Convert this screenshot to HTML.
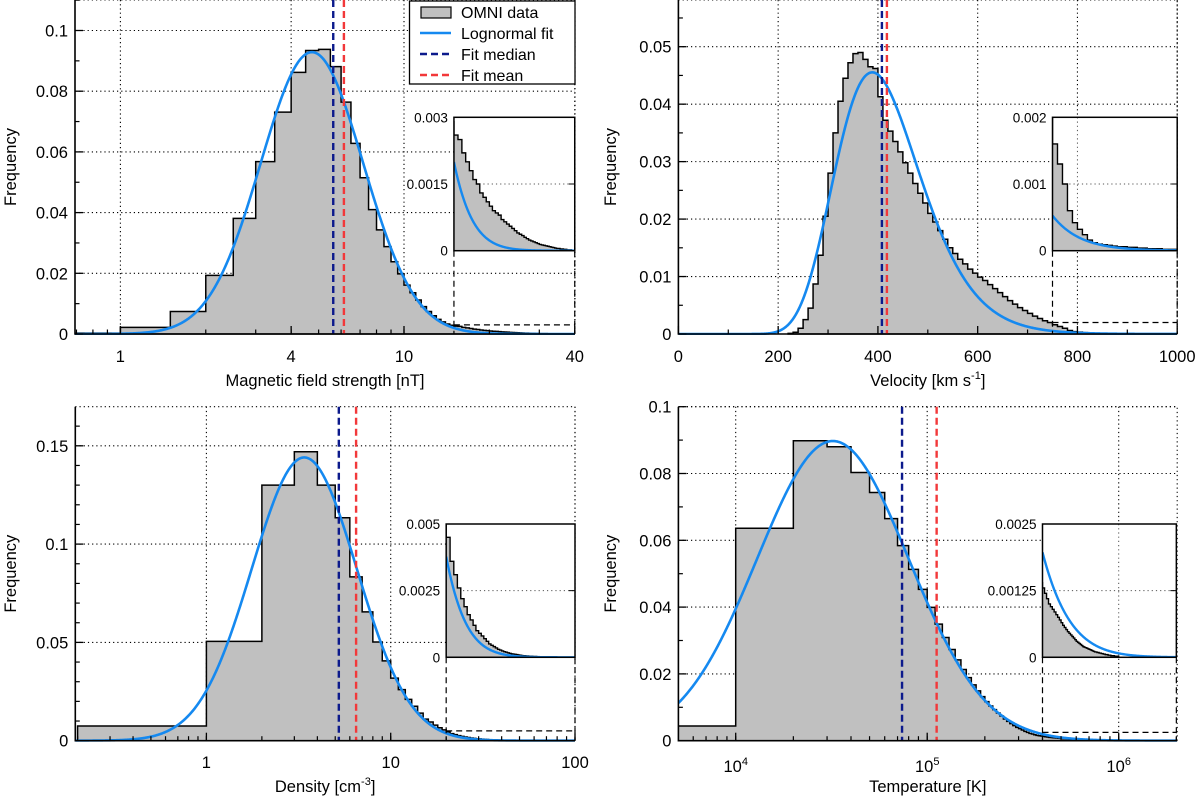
<!DOCTYPE html>
<html><head><meta charset="utf-8"><title>OMNI distributions</title>
<style>
html,body{margin:0;padding:0;background:#fff;}
svg{display:block;font-family:"Liberation Sans",Arial,sans-serif;}
</style></head>
<body>
<svg id="fig" width="1200" height="797" viewBox="0 0 1200 797" xmlns="http://www.w3.org/2000/svg">
<defs id="defs"></defs>
</svg>
<script>
// ---------- Data: magnetic field strength ----------
const bBinStart = 0.5;
const bBinWidth = 0.5;
const bValues = [0.0003,0.0022,0.0074,0.0193,0.0381,0.0568,0.0731,0.0862,0.0934,0.0938,0.0881,0.0764,0.0628,0.0515,0.041,0.0343,0.0288,0.0238,0.0198,
0.0161,0.0136,0.0112,0.009,0.0074,0.006,0.0048,0.0040,0.0033,0.0029,
0.0026,0.0025,0.0022,0.0020,0.0018,0.0016,0.0015,0.0013,0.0012,0.0011,
0.0010,0.0009,0.00085,0.0008,0.0007,0.00065,0.0006,0.00055,0.0005,0.00045,
0.0004,0.00037,0.00034,0.0003,0.00027,0.00024,0.00022,0.0002,0.00018,0.00016,
0.00014,0.00013,0.00012,0.00011,0.0001,0.00009,0.00008,0.00007,0.00006,0.00005,
0.00005,0.00004,0.00004,0.00003,0.00003,0.00002,0.00002,0.00002,0.00001,0.00001];
const bFit = [5.63, 0.416]; // median, sigma
const bYTicks = [0,0.02,0.04,0.06,0.08,0.1];
const bYLabels = ["0","0.02","0.04","0.06","0.08","0.1"];
const bXTicks = [1,4,10,40];
const bXLabels = ["1","4","10","40"];
const bInsetTicks = [0,0.0015,0.003];
const bInsetLabels = ["0","0.0015","0.003"];

// ---------- Data: velocity ----------
const vBinStart = 220;
const vBinWidth = 10;
const vValues = [0.0001,0.0003,0.001,0.0025,0.0045,0.0087,0.0137,0.0205,0.028,0.035,
0.0405,0.0445,0.0472,0.0488,0.049,0.0478,0.0465,0.0462,0.0413,0.0372,
0.0353,0.0335,0.0317,0.0298,0.028,0.0262,0.0245,0.0228,0.021,0.0195,
0.018,0.0165,0.015,0.014,0.013,0.0122,0.0113,0.0106,0.0099,0.0093,
0.0086,0.0079,0.0072,0.0065,0.0058,0.0052,0.0046,0.0041,0.0036,0.0031,
0.0027,0.0023,0.002,0.0016,0.0013,0.001,0.0006,0.00042,0.00032,0.00024,
0.00016,0.00012,0.0001,0.00009,0.00008,0.00007,0.00006,0.00006,0.00005,0.00005,
0.00004,0.00004,0.00003,0.00003,0.00003,0.00002,0.00002,0.00002];
const vFit = [408, 0.22];
const vYTicks = [0,0.01,0.02,0.03,0.04,0.05];
const vYLabels = ["0","0.01","0.02","0.03","0.04","0.05"];
const vXTicks = [0,200,400,600,800,1000];
const vXLabels = ["0","200","400","600","800","1000"];
const vInsetTicks = [0,0.001,0.002];
const vInsetLabels = ["0","0.001","0.002"];

// ---------- Data: density ----------
const nHeadBin = [0.2, 1, 0.0075];
const nBinStart = 1;
const nBinWidth = 1;
const nValues = [0.0505,0.13,0.147,0.13,0.1134,0.0833,0.0655,0.0502,0.0406,
0.0318,0.026,0.021,0.0175,0.014,0.011,0.0095,0.0079,0.0066,0.0055,
0.0045,0.0036,0.0031,0.0026,0.0022,0.0019,0.0016,0.0014,0.0012,0.001,
0.0009,0.0008,0.0007,0.0006,0.0005,0.00045,0.0004,0.00035,0.0003,0.00027,
0.00024,0.00021,0.00019,0.00017,0.00015,0.00013,0.00012,0.00011,0.0001,0.00009,
0.00008,0.00007,0.00006,0.00006,0.00005,0.00005,0.00004,0.00004,0.00004,0.00003,
0.00003,0.00003,0.00002,0.00002,0.00002,0.00002,0.00001,0.00001,0.00001,0.00001];
const nFit = [5.23, 0.657];
const nYTicks = [0,0.05,0.1,0.15];
const nYLabels = ["0","0.05","0.1","0.15"];
const nXTicks = [1,10,100];
const nXLabels = ["1","10","100"];
const nInsetTicks = [0,0.0025,0.005];
const nInsetLabels = ["0","0.0025","0.005"];

// ---------- Data: temperature ----------
const tHeadBin = [5000, 10000, 0.0044];
const tBinStart = 10000;
const tBinWidth = 10000;
const tValues = [0.0636,0.0898,0.088,0.0803,0.0743,0.0665,0.0584,0.0513,0.0453,
0.0399,0.0349,0.0309,0.0273,0.0242,0.0213,0.0189,0.0167,0.0149,0.0132,
0.0117,0.0104,0.0093,0.0083,0.0074,0.0065,0.0058,0.0051,0.0045,0.004,
0.0036,0.0032,0.0028,0.0025,0.0022,0.002,0.0018,0.0016,0.0015,0.0014,
0.0013,0.0012,0.0011,0.001,0.00095,0.0009,0.00085,0.0008,0.00075,0.0007,
0.00065,0.0006,0.00056,0.00052,0.00048,0.00045,0.00042,0.00039,0.00036,0.00033,
0.0003,0.00028,0.00026,0.00024,0.00022,0.0002,0.00019,0.00018,0.00017,0.00016,
0.00015,0.00014,0.00013,0.00012,0.00011,0.0001,0.0001,0.00009,0.00009,0.00008,
0.00008,0.00007,0.00007,0.00006,0.00006,0.00005,0.00005,0.00005,0.00004,0.00004,
0.00004,0.00003,0.00003,0.00003,0.00003,0.00002,0.00002,0.00002,0.00002,0.00002];
const tFit = [73900, 0.912];
const tYTicks = [0,0.02,0.04,0.06,0.08,0.1];
const tYLabels = ["0","0.02","0.04","0.06","0.08","0.1"];
const tXTicks = [10000,100000,1000000];
const tXExponents = ["4","5","6"];
const tInsetTicks = [0,0.00125,0.0025];
const tInsetLabels = ["0","0.00125","0.0025"];

// ---------- helpers ----------
const NS = "http://www.w3.org/2000/svg";
const svg = document.getElementById("fig");
const defs = document.getElementById("defs");
function mk(tag, attrs, parent){
  const el = document.createElementNS(NS, tag);
  for (const k in attrs) el.setAttribute(k, attrs[k]);
  (parent || svg).appendChild(el);
  return el;
}
function tag(el, n, inter){
  
  
}
function scale(type, a, b){
  const f = v => a + b * (type === 'log' ? Math.log10(v) : v);
  f.inv = px => type === 'log' ? Math.pow(10, (px - a) / b) : (px - a) / b;
  return f;
}
function linY(zeroPx, pxPerUnit){ return v => zeroPx - pxPerUnit * v; }
function bins(headBin, start, width, values){
  const out = [];
  if (headBin) out.push({lo: headBin[0], hi: headBin[1], v: headBin[2]});
  values.forEach((v, i) => out.push({lo: start + i * width, hi: start + (i + 1) * width, v: v}));
  return out;
}
function lognormalFreq(x, median, sigma, bw){
  if (x <= 0) return 0;
  const z = Math.log(x / median) / sigma;
  return bw * Math.exp(-0.5 * z * z) / (x * sigma * Math.sqrt(2 * Math.PI));
}
let clipId = 0;
function clip(x, y, w, h){
  const id = "c" + (clipId++);
  const cp = mk("clipPath", {id: id}, defs);
  mk("rect", {x: x, y: y, width: w, height: h}, cp);
  return "url(#" + id + ")";
}
function histPath(bs, X, Y){
  let d = "M" + X(bs[0].lo) + "," + Y(0);
  bs.forEach(b => { d += "L" + X(b.lo) + "," + Y(b.v) + "L" + X(b.hi) + "," + Y(b.v); });
  d += "L" + X(bs[bs.length - 1].hi) + "," + Y(0) + "Z";
  return d;
}
function curvePath(X, Y, x0, x1, fit, bw){
  let d = "";
  for (let px = x0; px <= x1; px += 0.5){
    const v = X.inv(px);
    const f = lognormalFreq(v, fit[0], fit[1], bw);
    d += (d ? "L" : "M") + px.toFixed(2) + "," + Y(f).toFixed(2);
  }
  return d;
}
const BLUE = "#1589f0", NAVY = "#0c1a8c", RED = "#f2383a", GRAY = "#c0c0c0";

function panel(c){
  const g = mk("g", {});
  tag(g, c.name + "-panel");
  const L = c.L, R = c.R, T = c.T, B = c.B;
  const X = c.X, Y = c.Y;
  // gridlines
  c.yTicks.forEach(t => {
    if (t === 0) return;
    const l = mk("line", {x1: L, x2: R, y1: Y(t), y2: Y(t), stroke: "#000", "stroke-width": 1.1, "stroke-dasharray": "1.2,3"}, g);
    tag(l, "y-gridline");
  });
  c.xGrid.forEach(t => {
    const l = mk("line", {x1: X(t), x2: X(t), y1: T, y2: B, stroke: "#000", "stroke-width": 1.1, "stroke-dasharray": "1.2,3"}, g);
    tag(l, "x-gridline");
  });
  const tb = mk("path", {d: "M" + L + "," + T + "H" + R + "V" + B, fill: "none", stroke: "#000", "stroke-width": 1.1, "stroke-dasharray": "1.2,3"}, g);
  tag(tb, "plot-frame-dotted");
  const cpMain = clip(L, T, R - L, B - T + 1);
  // histogram
  const h = mk("path", {d: histPath(c.bins, X, Y), fill: GRAY, stroke: "#000", "stroke-width": 1.5, "clip-path": cpMain}, g);
  tag(h, "histogram-omni-data");
  // fit
  const fc = mk("path", {d: curvePath(X, Y, L, R, c.fit, c.bw), fill: "none", stroke: BLUE, "stroke-width": 2.6, "clip-path": cpMain}, g);
  tag(fc, "lognormal-fit-curve");
  // median/mean
  const med = c.fit[0], mean = c.fit[0] * Math.exp(c.fit[1] * c.fit[1] / 2);
  const ml = mk("line", {x1: X(med), x2: X(med), y1: T, y2: B, stroke: NAVY, "stroke-width": 2.4, "stroke-dasharray": "7,4"}, g);
  tag(ml, "fit-median-line");
  const mn = mk("line", {x1: X(mean), x2: X(mean), y1: T, y2: B, stroke: RED, "stroke-width": 2.4, "stroke-dasharray": "7,4"}, g);
  tag(mn, "fit-mean-line");
  // inset zoom marker
  const ix0 = X(c.inset.lo), ix1 = X(c.inset.hi);
  const dr = mk("path", {d: "M" + ix0 + "," + c.inset.B + "V" + B + "M" + ix1 + "," + c.inset.B + "V" + B + "M" + ix0 + "," + Y(c.inset.max) + "H" + ix1, fill: "none", stroke: "#000", "stroke-width": 1.2, "stroke-dasharray": "6,4"}, g);
  tag(dr, "inset-zoom-region");
  // inset
  const ig = mk("g", {}, g);
  tag(ig, c.name + "-inset");
  const iT = c.inset.T, iB = c.inset.B;
  const IY = v => iB - (iB - iT) * v / c.inset.max;
  const bg = mk("rect", {x: ix0, y: iT, width: ix1 - ix0, height: iB - iT, fill: "#fff"}, ig);
  tag(bg, "inset-background");
  c.insetTicks.forEach(t => {
    if (t === 0 || t === c.inset.max) return;
    const l = mk("line", {x1: ix0, x2: ix1, y1: IY(t), y2: IY(t), stroke: "#555", "stroke-width": 1, "stroke-dasharray": "1.2,3"}, ig);
    tag(l, "inset-gridline");
    const tk = mk("line", {x1: ix1 - 6, x2: ix1, y1: IY(t), y2: IY(t), stroke: "#000", "stroke-width": 1}, ig);
    tag(tk, "inset-tick");
  });
  c.xGrid.forEach(t => {
    const px = X(t);
    if (px > ix0 + 2 && px < ix1 - 2){
      const l = mk("line", {x1: px, x2: px, y1: iT, y2: iB, stroke: "#555", "stroke-width": 1, "stroke-dasharray": "1.2,3"}, ig);
      tag(l, "inset-gridline");
    }
  });
  const cpIn = clip(ix0, iT, ix1 - ix0, iB - iT);
  const ih = mk("path", {d: histPath(c.bins, X, IY), fill: GRAY, stroke: "#000", "stroke-width": 1.4, "clip-path": cpIn}, ig);
  tag(ih, "inset-histogram");
  const ic = mk("path", {d: curvePath(X, IY, ix0, ix1, c.fit, c.bw), fill: "none", stroke: BLUE, "stroke-width": 2.4, "clip-path": cpIn}, ig);
  tag(ic, "inset-fit-curve");
  const ib = mk("rect", {x: ix0, y: iT, width: ix1 - ix0, height: iB - iT, fill: "none", stroke: "#000", "stroke-width": 1.5}, ig);
  tag(ib, "inset-frame");
  c.insetTicks.forEach((t, i) => {
    const tx = mk("text", {x: ix0 - 6, y: IY(t) + 5, "text-anchor": "end", "font-size": 13.5}, ig);
    tx.textContent = c.insetLabels[i];
    tag(tx, "inset-tick-label");
  });
  // axes
  const ax = mk("path", {d: "M" + L + "," + T + "V" + B + "H" + R, fill: "none", stroke: "#000", "stroke-width": 1.6}, g);
  tag(ax, "axes");
  c.yTicks.forEach((t, i) => {
    const tk = mk("line", {x1: L, x2: L + 8, y1: Y(t), y2: Y(t), stroke: "#000", "stroke-width": 1.3}, g);
    tag(tk, "y-tick");
    const tx = mk("text", {x: L - 7, y: Y(t) + 6, "text-anchor": "end", "font-size": 16.5}, g);
    tx.textContent = c.yLabels[i];
    tag(tx, "y-tick-label");
  });
  for (let v = c.yMinor; v < c.yMax; v += c.yMinor){
    const vv = Math.round(v * 1e6) / 1e6;
    if (c.yTicks.some(t => Math.abs(t - vv) < 1e-9)) continue;
    const tk = mk("line", {x1: L, x2: L + 4.5, y1: Y(vv), y2: Y(vv), stroke: "#000", "stroke-width": 1.2}, g);
    tag(tk, "y-minor-tick");
  }
  c.xMinor.forEach(t => {
    const px = X(t);
    if (px < L || px > R) return;
    const tk = mk("line", {x1: px, x2: px, y1: B, y2: B - 4.5, stroke: "#000", "stroke-width": 1.2}, g);
    tag(tk, "x-minor-tick");
  });
  c.xTicks.forEach((t, i) => {
    const px = X(t);
    const tk = mk("line", {x1: px, x2: px, y1: B, y2: B - 8, stroke: "#000", "stroke-width": 1.3}, g);
    tag(tk, "x-tick");
    const tx = mk("text", {x: px, y: c.xLabelY, "text-anchor": "middle", "font-size": 16.5}, g);
    if (c.xExp){
      tx.textContent = "10";
      const s = mk("tspan", {dy: -7, "font-size": 11}, tx);
      s.textContent = c.xExp[i];
    } else {
      tx.textContent = c.xLabels[i];
    }
    tag(tx, "x-tick-label");
  });
  // titles
  const yt = mk("text", {x: 0, y: 0, transform: "translate(" + c.yTitleX + "," + ((T + B) / 2) + ") rotate(-90)", "text-anchor": "middle", "font-size": 16.5}, g);
  yt.textContent = "Frequency";
  tag(yt, "y-axis-title");
  const xt = mk("text", {x: (L + R) / 2, y: c.xTitleY, "text-anchor": "middle", "font-size": 16.5}, g);
  xt.textContent = c.xTitle[0];
  if (c.xTitle.length > 1){
    const s = mk("tspan", {dy: -7, "font-size": 11}, xt);
    s.textContent = c.xTitle[1];
    const s2 = mk("tspan", {dy: 7}, xt);
    s2.textContent = c.xTitle[2];
  }
  tag(xt, "x-axis-title");
}
function logMinor(lo, hi){
  const out = [];
  for (let e = Math.floor(Math.log10(lo)); e <= Math.ceil(Math.log10(hi)); e++)
    for (let m = 1; m <= 9; m++) out.push(m * Math.pow(10, e));
  return out;
}

// Panel 1: magnetic field
panel({name: "magnetic-field", L: 75, R: 575, T: 0, B: 334,
  X: scale('log', 120.4, 283.6), Y: linY(334, 3035),
  bins: bins(null, bBinStart, bBinWidth, bValues), bw: bBinWidth, fit: bFit,
  yTicks: bYTicks, yLabels: bYLabels, yMinor: 0.01, yMax: 0.11,
  xTicks: bXTicks, xLabels: bXLabels, xGrid: [1,4,10,40], xMinor: logMinor(0.6, 40),
  inset: {lo: 15, hi: 40, max: 0.003, T: 117.3, B: 250.7},
  insetTicks: bInsetTicks, insetLabels: bInsetLabels,
  xLabelY: 362, xTitleY: 386, yTitleX: 16, xTitle: ["Magnetic field strength [nT]"]});

// Panel 2: velocity
panel({name: "velocity", L: 678.4, R: 1177.2, T: 0, B: 334,
  X: scale('lin', 678.4, 0.4988), Y: linY(334, 5746),
  bins: bins(null, vBinStart, vBinWidth, vValues), bw: vBinWidth, fit: vFit,
  yTicks: vYTicks, yLabels: vYLabels, yMinor: 0.005, yMax: 0.058,
  xTicks: vXTicks, xLabels: vXLabels, xGrid: [200,400,600,800,1000], xMinor: [100,300,500,700,900],
  inset: {lo: 750, hi: 1000, max: 0.002, T: 117.3, B: 250.7},
  insetTicks: vInsetTicks, insetLabels: vInsetLabels,
  xLabelY: 362, xTitleY: 386, yTitleX: 616, xTitle: ["Velocity [km s", "-1", "]"]});

// Panel 3: density
panel({name: "density", L: 75.3, R: 575, T: 406.7, B: 740.7,
  X: scale('log', 206.4, 184.3), Y: linY(740.7, 1966),
  bins: bins(nHeadBin, nBinStart, nBinWidth, nValues), bw: nBinWidth, fit: nFit,
  yTicks: nYTicks, yLabels: nYLabels, yMinor: 0.01, yMax: 0.17,
  xTicks: nXTicks, xLabels: nXLabels, xGrid: [1,10,100], xMinor: logMinor(0.2, 100),
  inset: {lo: 20, hi: 100, max: 0.005, T: 524, B: 657.3},
  insetTicks: nInsetTicks, insetLabels: nInsetLabels,
  xLabelY: 768, xTitleY: 792, yTitleX: 16, xTitle: ["Density [cm", "-3", "]"]});

// Panel 4: temperature
panel({name: "temperature", L: 678.4, R: 1177.2, T: 406.7, B: 740.7,
  X: scale('log', 735.7 - 4 * 191.5, 191.5), Y: linY(740.7, 3340),
  bins: bins(tHeadBin, tBinStart, tBinWidth, tValues), bw: tBinWidth, fit: tFit,
  yTicks: tYTicks, yLabels: tYLabels, yMinor: 0.01, yMax: 0.1,
  xTicks: tXTicks, xExp: tXExponents, xGrid: [10000,100000,1000000], xMinor: logMinor(5000, 2000000),
  inset: {lo: 400000, hi: 2000000, max: 0.0025, T: 524, B: 657.3},
  insetTicks: tInsetTicks, insetLabels: tInsetLabels,
  xLabelY: 772, xTitleY: 792, yTitleX: 616, xTitle: ["Temperature [K]"]});

// Legend
const lg = mk("g", {});
tag(lg, "legend");
const lbox = mk("rect", {x: 409.5, y: 1, width: 165.5, height: 83, fill: "#fff", stroke: "#000", "stroke-width": 1.3}, lg);
tag(lbox, "legend-box");
const lp = mk("rect", {x: 421, y: 7, width: 30, height: 11, fill: GRAY, stroke: "#000", "stroke-width": 1.2}, lg);
tag(lp, "legend-swatch-omni");
const l1 = mk("line", {x1: 420, x2: 451, y1: 33, y2: 33, stroke: BLUE, "stroke-width": 2.6}, lg);
tag(l1, "legend-swatch-fit");
const l2 = mk("line", {x1: 420, x2: 451, y1: 54, y2: 54, stroke: NAVY, "stroke-width": 2.4, "stroke-dasharray": "7,4"}, lg);
tag(l2, "legend-swatch-median");
const l3 = mk("line", {x1: 420, x2: 451, y1: 75, y2: 75, stroke: RED, "stroke-width": 2.4, "stroke-dasharray": "7,4"}, lg);
tag(l3, "legend-swatch-mean");
const legendTexts = ["OMNI data", "Lognormal fit", "Fit median", "Fit mean"];
legendTexts.forEach((s, i) => {
  const t = mk("text", {x: 461, y: 18 + i * 21, "font-size": 16}, lg);
  t.textContent = s;
  
  
});
</script>
</body></html>
